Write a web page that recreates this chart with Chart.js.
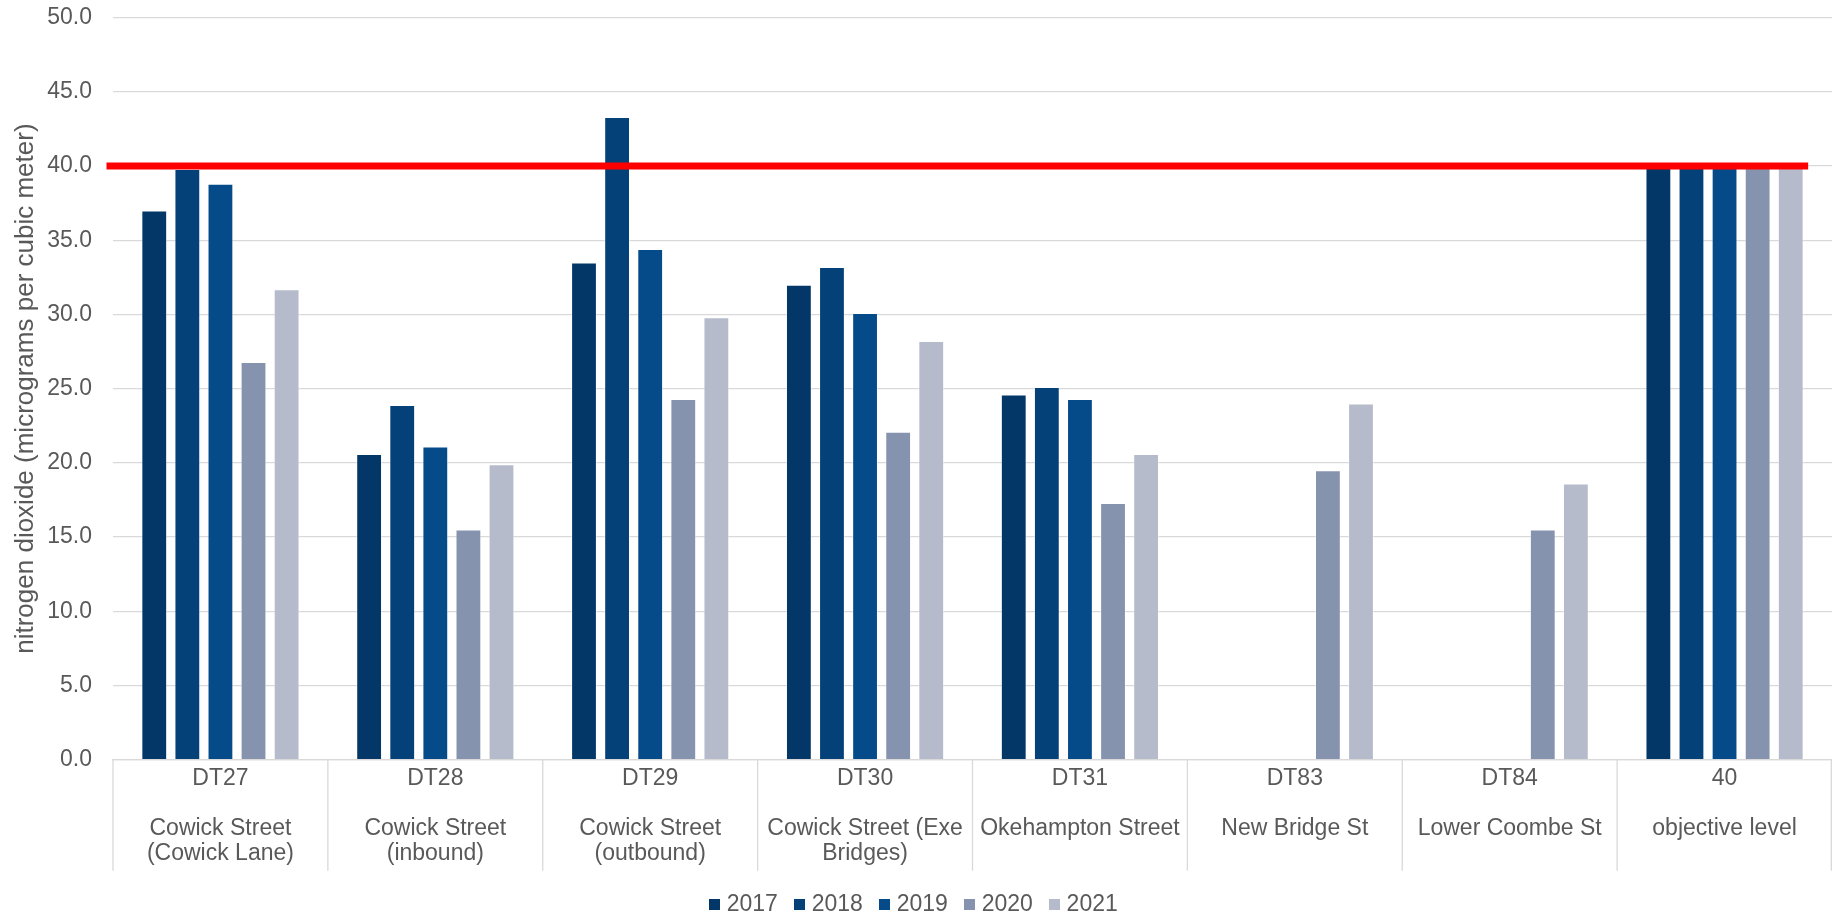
<!DOCTYPE html>
<html>
<head>
<meta charset="utf-8">
<script src="https://cdn.jsdelivr.net/npm/chart.js@4.4.1/dist/chart.umd.min.js"></script>
<style>
  html, body { margin: 0; padding: 0; background: #ffffff; }
  canvas { display: block; }
</style>
</head>
<body>
<canvas id="no2Chart" width="1832" height="916"></canvas>
<script>
// Monitoring sites: diffusion tube code and location
const SITE_CODES = ['DT27', 'DT28', 'DT29', 'DT30', 'DT31', 'DT83', 'DT84', '40'];
const SITE_NAMES = [
  ['Cowick Street', '(Cowick Lane)'],
  ['Cowick Street', '(inbound)'],
  ['Cowick Street', '(outbound)'],
  ['Cowick Street (Exe', 'Bridges)'],
  ['Okehampton Street'],
  ['New Bridge St'],
  ['Lower Coombe St'],
  ['objective level']
];

// Annual mean NO2 (µg/m³) per year
const YEARS = ['2017', '2018', '2019', '2020', '2021'];
const NO2_2017 = [37.0, 20.6, 33.5, 32.0, 24.6, null, null, 40];
const NO2_2018 = [39.8, 23.9, 43.3, 33.2, 25.1, null, null, 40];
const NO2_2019 = [38.8, 21.1, 34.4, 30.1, 24.3, null, null, 40];
const NO2_2020 = [26.8, 15.5, 24.3, 22.1, 17.3, 19.5, 15.5, 40];
const NO2_2021 = [31.7, 19.9, 29.8, 28.2, 20.6, 24.0, 18.6, 40];

// Air quality objective (annual mean)
const OBJECTIVE = 40;

// Value axis range
const Y_MIN = 0;
const Y_MAX = 50;
const Y_STEP = 5;

const YEAR_COLOURS = ['#033767', '#044179', '#064b89', '#8693af', '#b6bbcb'];
const TEXT_GREY = '#595959';
const RULE_GREY = '#d9d9d9';
const FONT = "'Liberation Sans', Arial, sans-serif";

// Small square swatches for the legend
function swatch(colour) {
  const c = document.createElement('canvas');
  c.width = 11;
  c.height = 11;
  const g = c.getContext('2d');
  g.fillStyle = colour;
  g.fillRect(0, 0, 11, 11);
  return c;
}
const SWATCHES = YEAR_COLOURS.map(swatch);

// Vertical dividers between the site boxes under the axis
const siteDividers = {
  id: 'siteDividers',
  afterDraw(chart) {
    const { ctx, chartArea, scales: { x } } = chart;
    ctx.save();
    ctx.strokeStyle = RULE_GREY;
    ctx.lineWidth = 1.3;
    for (let i = 0; i <= SITE_CODES.length; i++) {
      let px = x.getPixelForValue(i - 0.5);
      px = Math.min(px, chart.width - 0.7);
      ctx.beginPath();
      ctx.moveTo(px, chartArea.bottom);
      ctx.lineTo(px, chartArea.bottom + 111);
      ctx.stroke();
    }
    ctx.restore();
  }
};

// Red objective line drawn over the bars
const objectiveLine = {
  id: 'objectiveLine',
  afterDatasetsDraw(chart) {
    const { ctx, chartArea, scales: { y } } = chart;
    const lastMeta = chart.getDatasetMeta(chart.data.datasets.length - 1);
    const lastBar = lastMeta.data[lastMeta.data.length - 1];
    const yPx = y.getPixelForValue(OBJECTIVE);
    ctx.save();
    ctx.strokeStyle = '#ff0000';
    ctx.lineWidth = 7;
    ctx.beginPath();
    ctx.moveTo(chartArea.left - 6.5, yPx);
    ctx.lineTo(lastBar.x + lastBar.width / 2 + 4.5, yPx);
    ctx.stroke();
    ctx.restore();
  }
};

const seriesValues = [NO2_2017, NO2_2018, NO2_2019, NO2_2020, NO2_2021];

new Chart(document.getElementById('no2Chart'), {
  type: 'bar',
  data: {
    labels: SITE_CODES,
    datasets: YEARS.map((year, i) => ({
      label: year,
      data: seriesValues[i],
      backgroundColor: YEAR_COLOURS[i],
      borderColor: 'rgba(255,255,255,0.45)',
      borderWidth: 1,
      categoryPercentage: 0.77,
      barPercentage: 0.78
    }))
  },
  options: {
    responsive: false,
    animation: false,
    devicePixelRatio: 1,
    layout: { padding: { top: 17.5, bottom: -10, left: 0, right: 0 } },
    plugins: {
      tooltip: { enabled: false },
      legend: {
        position: 'bottom',
        labels: {
          usePointStyle: true,
          boxWidth: 1,
          padding: 21.3,
          color: TEXT_GREY,
          font: { family: FONT, size: 23 },
          generateLabels(chart) {
            const items = Chart.defaults.plugins.legend.labels.generateLabels(chart);
            items.forEach((item) => { item.pointStyle = SWATCHES[item.datasetIndex]; });
            return items;
          }
        }
      }
    },
    scales: {
      x: {
        grid: { display: false, drawTicks: false },
        border: { display: true, color: RULE_GREY, width: 1.3 },
        ticks: {
          autoSkip: false,
          maxRotation: 0,
          minRotation: 0,
          padding: 6,
          color: TEXT_GREY,
          font: { family: FONT, size: 23, lineHeight: 25 / 23 },
          callback: (value, index) => [SITE_CODES[index], '', ...SITE_NAMES[index]]
        }
      },
      y: {
        min: Y_MIN,
        max: Y_MAX,
        afterFit: (scale) => { scale.width = 113; },
        grid: {
          color: RULE_GREY,
          lineWidth: 1.3,
          drawTicks: true,
          tickLength: 21,
          tickColor: 'rgba(0,0,0,0)'
        },
        border: { display: false },
        ticks: {
          stepSize: Y_STEP,
          padding: 0,
          color: TEXT_GREY,
          font: { family: FONT, size: 23 },
          callback: (value) => Number(value).toFixed(1)
        },
        title: {
          display: true,
          text: 'nitrogen dioxide (micrograms per cubic meter)',
          color: TEXT_GREY,
          font: { family: FONT, size: 26 },
          padding: { top: 10.4, bottom: 0 }
        }
      }
    }
  },
  plugins: [siteDividers, objectiveLine]
});
</script>
</body>
</html>
